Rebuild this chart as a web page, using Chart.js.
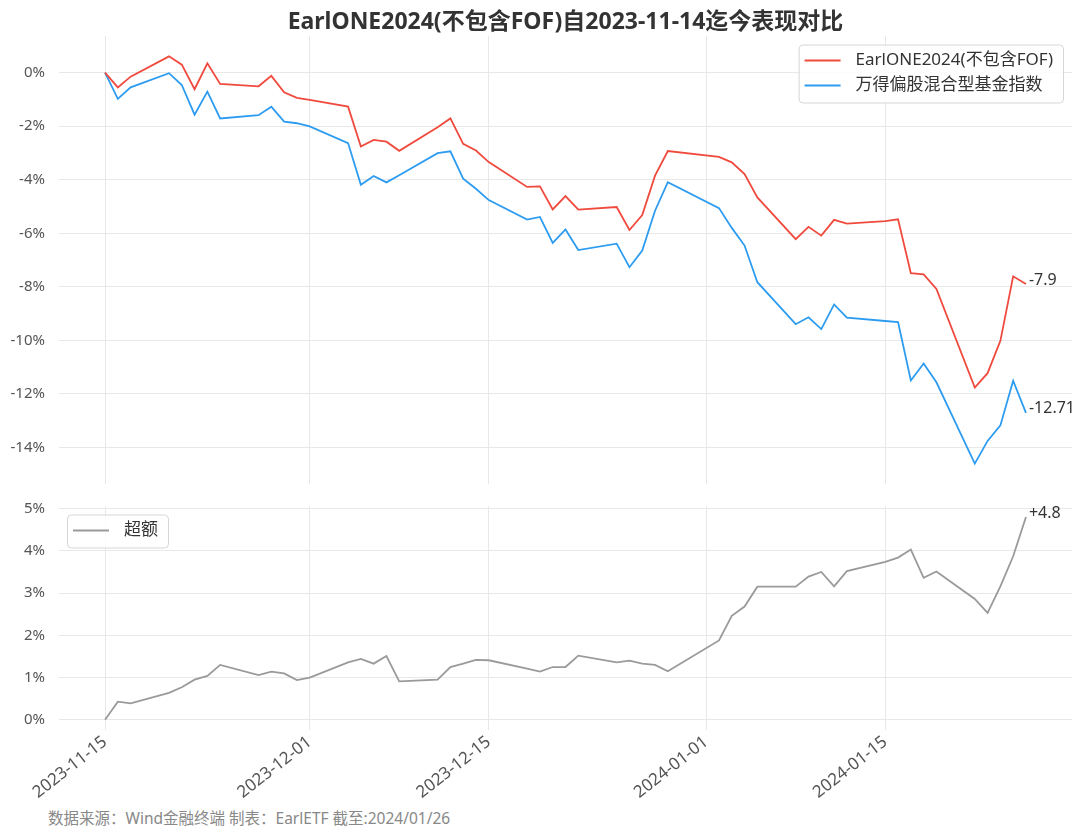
<!DOCTYPE html>
<html>
<head>
<meta charset="utf-8">
<title>EarlONE2024</title>
<script src="https://cdn.jsdelivr.net/npm/chart.js@4.4.0/dist/chart.umd.min.js"></script>
<style>
  body { margin: 0; background: #fff; }
  #wrap { position: relative; width: 1080px; height: 835px; font-family: "Noto Sans", "Noto Sans CJK SC", sans-serif; }
  #title { position: absolute; left: 59px; width: 1013px; top: 2px; text-align: center;
           font-size: 23px; font-weight: bold; color: #333; }
  #top { position: absolute; left: 0; top: 0; }
  #bottom { position: absolute; left: 0; top: 490px; }
  #note { position: absolute; left: 48px; top: 806px; font-size: 15.5px; color: #888; }
</style>
</head>
<body>
<div id="wrap">
  <canvas id="top" width="1080" height="490"></canvas>
  <canvas id="bottom" width="1080" height="315"></canvas>
  <div id="title">EarlONE2024(不包含FOF)自2023-11-14迄今表现对比</div>
  <div id="note">数据来源：Wind金融终端 制表：EarlETF 截至:2024/01/26</div>
</div>
<script>
// trading days
var dates = [
  '2023-11-15','2023-11-16','2023-11-17','2023-11-20','2023-11-21','2023-11-22','2023-11-23','2023-11-24',
  '2023-11-27','2023-11-28','2023-11-29','2023-11-30','2023-12-01','2023-12-04','2023-12-05','2023-12-06',
  '2023-12-07','2023-12-08','2023-12-11','2023-12-12','2023-12-13','2023-12-14','2023-12-15','2023-12-18',
  '2023-12-19','2023-12-20','2023-12-21','2023-12-22','2023-12-25','2023-12-26','2023-12-27','2023-12-28',
  '2023-12-29','2024-01-02','2024-01-03','2024-01-04','2024-01-05','2024-01-08','2024-01-09','2024-01-10',
  '2024-01-11','2024-01-12','2024-01-15','2024-01-16','2024-01-17','2024-01-18','2024-01-19','2024-01-22',
  '2024-01-23','2024-01-24','2024-01-25','2024-01-26'
];

// cumulative return, %
var earlone = [
  0, -0.55, -0.15, 0.61, 0.30, -0.62, 0.35, -0.42,
  -0.51, -0.12, -0.73, -0.94, -1.02, -1.27, -2.76, -2.51,
  -2.58, -2.92, -2.04, -1.71, -2.66, -2.91, -3.34, -4.27,
  -4.25, -5.11, -4.61, -5.12, -5.02, -5.88, -5.32, -3.85,
  -2.93, -3.15, -3.35, -3.79, -4.66, -6.22, -5.76, -6.09,
  -5.50, -5.64, -5.55, -5.48, -7.49, -7.54, -8.08, -11.77,
  -11.23, -10.02, -7.61, -7.90
];
var windIndex = [
  0, -0.98, -0.55, -0.02, -0.46, -1.57, -0.71, -1.71,
  -1.59, -1.27, -1.83, -1.89, -2.01, -2.63, -4.19, -3.86,
  -4.10, -3.83, -3.01, -2.94, -3.96, -4.34, -4.76, -5.49,
  -5.39, -6.36, -5.86, -6.63, -6.39, -7.27, -6.65, -5.16,
  -4.09, -5.06, -5.80, -6.46, -7.83, -9.40, -9.14, -9.58,
  -8.66, -9.15, -9.28, -9.32, -11.50, -10.87, -11.57, -14.61,
  -13.76, -13.18, -11.51, -12.71
];
var excess = [
  0, 0.43, 0.39, 0.64, 0.77, 0.95, 1.04, 1.30,
  1.06, 1.14, 1.10, 0.94, 1.00, 1.36, 1.44, 1.33,
  1.51, 0.91, 0.95, 1.25, 1.33, 1.42, 1.41, 1.21,
  1.14, 1.25, 1.25, 1.52, 1.36, 1.40, 1.33, 1.30,
  1.15, 1.88, 2.46, 2.68, 3.15, 3.15, 3.39, 3.50,
  3.16, 3.52, 3.74, 3.84, 4.03, 3.36, 3.51, 2.86,
  2.53, 3.16, 3.87, 4.80
];

var xTickDates = ['2023-11-15', '2023-12-01', '2023-12-15', '2024-01-01', '2024-01-15'];
var topTicks = [0, -2, -4, -6, -8, -10, -12, -14];
var bottomTicks = [0, 1, 2, 3, 4, 5];

var FONT = '"Noto Sans", "Noto Sans CJK SC", sans-serif';
var GRID = '#e8e8e8';

function dayOf(s) {
  return (Date.parse(s) - Date.parse(dates[0])) / 86400000;
}
function toPoints(vals) {
  return vals.map(function (v, i) { return { x: dayOf(dates[i]), y: v }; });
}
function fmtEnd(v) {
  var s = String(Number(v.toFixed(2)));
  return v > 0 ? '+' + s : s;
}

/* value next to the last point of each line */
var endLabels = {
  id: 'endLabels',
  afterDatasetsDraw: function (chart) {
    var ctx = chart.ctx;
    ctx.save();
    ctx.font = '16px ' + FONT;
    ctx.fillStyle = '#333';
    ctx.textAlign = 'left';
    ctx.textBaseline = 'middle';
    chart.data.datasets.forEach(function (ds, i) {
      var meta = chart.getDatasetMeta(i);
      var pt = meta.data[meta.data.length - 1];
      ctx.fillText(fmtEnd(ds.data[ds.data.length - 1].y), pt.x + 3, pt.y - 4);
    });
    ctx.restore();
  }
};

/* legend box drawn inside the plot */
var boxLegend = {
  id: 'boxLegend',
  afterDraw: function (chart, args, opts) {
    var ctx = chart.ctx;
    var ca = chart.chartArea;
    var items = chart.data.datasets;
    ctx.save();
    ctx.font = '17px ' + FONT;
    var tw = 0;
    items.forEach(function (ds) { tw = Math.max(tw, ctx.measureText(ds.label).width); });
    var bw = 58 + tw + 9;
    var bh = 8 + items.length * 25;
    var x0 = opts.side === 'right' ? ca.right - 9 - bw : ca.left + 8;
    var y0 = ca.top + 8.5;
    ctx.beginPath();
    ctx.roundRect(x0 + 0.5, y0 + 0.5, bw, bh, 4);
    ctx.fillStyle = 'rgba(255,255,255,0.85)';
    ctx.fill();
    ctx.strokeStyle = '#d6d6d6';
    ctx.lineWidth = 1;
    ctx.stroke();
    ctx.textBaseline = 'middle';
    ctx.textAlign = 'left';
    items.forEach(function (ds, i) {
      var cy = y0 + 16 + i * 25;
      ctx.beginPath();
      ctx.moveTo(x0 + 6, cy);
      ctx.lineTo(x0 + 42, cy);
      ctx.strokeStyle = ds.borderColor;
      ctx.lineWidth = 2;
      ctx.stroke();
      ctx.fillStyle = '#333';
      ctx.fillText(ds.label, x0 + 57, cy);
    });
    ctx.restore();
  }
};

var xDays = xTickDates.map(dayOf);
var xMin = -3.6, xMax = 75.6;

function xScale(showLabels) {
  return {
    type: 'linear',
    min: xMin,
    max: xMax,
    afterBuildTicks: function (scale) {
      scale.ticks = xDays.map(function (d) { return { value: d }; });
    },
    afterFit: function (scale) {
      scale.height = showLabels ? 75 : 0;
      scale.paddingLeft = 0;
      scale.paddingRight = 0;
    },
    grid: { color: GRID, drawTicks: false },
    border: { display: false },
    ticks: {
      display: showLabels,
      autoSkip: false,
      minRotation: 38,
      maxRotation: 38,
      padding: 2,
      color: '#555',
      font: { family: FONT, size: 17 },
      callback: function (v, i) { return xTickDates[i]; }
    }
  };
}

function yScale(min, max, ticks) {
  return {
    min: min,
    max: max,
    afterBuildTicks: function (scale) {
      scale.ticks = ticks.map(function (v) { return { value: v }; });
    },
    afterFit: function (scale) {
      scale.width = 59;
      scale.paddingTop = 0;
      scale.paddingBottom = 0;
    },
    grid: { color: GRID, drawTicks: false },
    border: { display: false },
    ticks: {
      padding: 14,
      color: '#555',
      font: { family: FONT, size: 15 },
      callback: function (v) { return v + '%'; }
    }
  };
}

var lineStyle = { borderWidth: 1.8, pointRadius: 0, tension: 0, fill: false };

var topChart = new Chart(document.getElementById('top'), {
  type: 'line',
  data: {
    datasets: [
      Object.assign({ label: 'EarlONE2024(不包含FOF)', data: toPoints(earlone), borderColor: '#f04a3e' }, lineStyle),
      Object.assign({ label: '万得偏股混合型基金指数', data: toPoints(windIndex), borderColor: '#2d9cf0' }, lineStyle)
    ]
  },
  options: {
    responsive: false,
    animation: false,
    layout: { padding: { top: 36, right: 8, bottom: 6, left: 0 } },
    scales: { x: xScale(false), y: yScale(-15.37, 1.37, topTicks) },
    plugins: { legend: { display: false }, tooltip: { enabled: false }, boxLegend: { side: 'right' } }
  },
  plugins: [endLabels, boxLegend]
});

var bottomChart = new Chart(document.getElementById('bottom'), {
  type: 'line',
  data: {
    datasets: [
      Object.assign({ label: '超额', data: toPoints(excess), borderColor: '#9a9a9a' }, lineStyle)
    ]
  },
  options: {
    responsive: false,
    animation: false,
    layout: { padding: { top: 16, right: 8, bottom: 0, left: 0 } },
    scales: { x: xScale(true), y: yScale(-0.24, 5.06, bottomTicks) },
    plugins: { legend: { display: false }, tooltip: { enabled: false }, boxLegend: { side: 'left' } }
  },
  plugins: [endLabels, boxLegend]
});
</script>
</body>
</html>
